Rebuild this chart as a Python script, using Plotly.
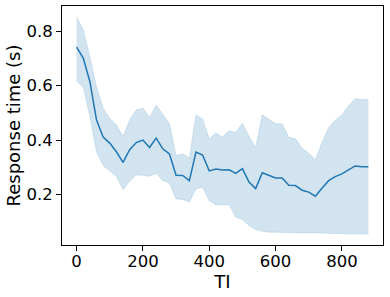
import plotly.graph_objects as go

ti = list(range(0, 881, 20))
mean_rt = [0.741, 0.701, 0.615, 0.474, 0.411, 0.389, 0.357, 0.318, 0.365, 0.391,
           0.400, 0.373, 0.407, 0.368, 0.349, 0.271, 0.270, 0.251, 0.356, 0.345,
           0.287, 0.294, 0.290, 0.291, 0.278, 0.295, 0.246, 0.222, 0.280, 0.271,
           0.261, 0.261, 0.234, 0.233, 0.216, 0.209, 0.194, 0.223, 0.251, 0.266,
           0.276, 0.291, 0.305, 0.302, 0.302]
upper_rt = [0.852, 0.806, 0.706, 0.596, 0.517, 0.480, 0.456, 0.413, 0.474, 0.511,
            0.517, 0.484, 0.529, 0.493, 0.460, 0.343, 0.350, 0.334, 0.493, 0.477,
            0.404, 0.426, 0.411, 0.434, 0.428, 0.462, 0.413, 0.372, 0.493, 0.477,
            0.460, 0.460, 0.410, 0.405, 0.370, 0.352, 0.328, 0.391, 0.446, 0.474,
            0.491, 0.526, 0.552, 0.548, 0.549]
lower_rt = [0.618, 0.594, 0.487, 0.356, 0.307, 0.288, 0.267, 0.218, 0.249, 0.272,
            0.271, 0.267, 0.278, 0.251, 0.243, 0.184, 0.182, 0.173, 0.221, 0.227,
            0.177, 0.163, 0.163, 0.163, 0.117, 0.109, 0.087, 0.072, 0.065, 0.062,
            0.062, 0.061, 0.061, 0.060, 0.060, 0.059, 0.059, 0.058, 0.058, 0.057,
            0.057, 0.056, 0.056, 0.056, 0.055]
x_ticks = [0, 200, 400, 600, 800]
y_ticks = [0.2, 0.4, 0.6, 0.8]

blue = "#1f77b4"
fig = go.Figure()
fig.add_trace(go.Scatter(x=ti, y=lower_rt, mode="lines",
                         line=dict(width=0.6, color="rgba(31,119,180,0.25)"),
                         showlegend=False, hoverinfo="skip"))
fig.add_trace(go.Scatter(x=ti, y=upper_rt, mode="lines", fill="tonexty",
                         fillcolor="rgba(31,119,180,0.2)",
                         line=dict(width=0.6, color="rgba(31,119,180,0.25)"),
                         showlegend=False, hoverinfo="skip"))
fig.add_trace(go.Scatter(x=ti, y=mean_rt, mode="lines",
                         line=dict(width=1.5, color=blue), showlegend=False))

tick_font = dict(family="DejaVu Sans", size=16.5, color="black")
title_font = dict(family="DejaVu Sans", size=18, color="black")
axis_common = dict(showline=True, linecolor="black", linewidth=1.1, mirror=True,
                   ticks="outside", ticklen=5, tickwidth=1.1, tickcolor="black",
                   showgrid=False, zeroline=False, tickfont=tick_font,
                   automargin=False)
fig.update_layout(
    width=390, height=297,
    margin=dict(l=62, r=7, t=6, b=52),
    paper_bgcolor="white", plot_bgcolor="white",
    xaxis=dict(range=[-44, 924], tickvals=x_ticks, ticklabelstandoff=-4,
               title=dict(text="TI", font=title_font, standoff=0), **axis_common),
    yaxis=dict(range=[0.015, 0.892], tickvals=y_ticks,
               tickformat=".1f",
               title=dict(text="Response time (s)", font=title_font, standoff=1), **axis_common),
)
fig.write_html("out.html", config={"displayModeBar": False},
               post_script="document.body.style.margin='0';")
